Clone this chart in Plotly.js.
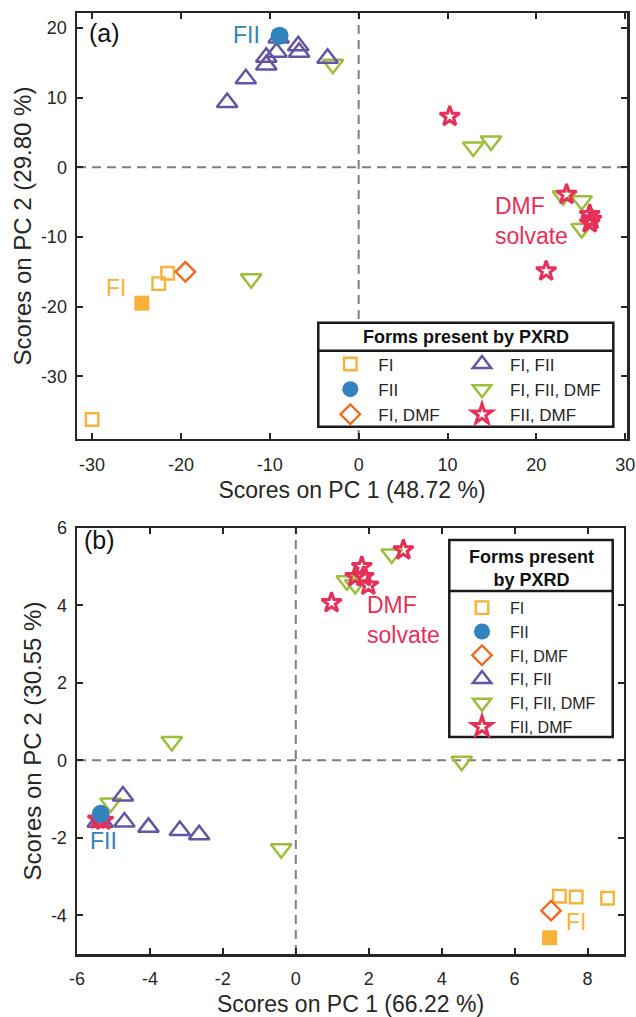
<!DOCTYPE html>
<html>
<head>
<meta charset="utf-8">
<script src="https://cdn.plot.ly/plotly-3.0.1.min.js"></script>
<style>html,body{margin:0;padding:0;background:#fff;}#chart{width:636px;height:1017px;}</style>
</head>
<body>
<div id="chart"></div>
<script>
// ---------- Panel (a) data ----------
const FI_a_x = [-22.5, -21.5, -30.0];
const FI_a_y = [-16.7, -15.2, -36.2];
const FIref_a_x = [-24.4];
const FIref_a_y = [-19.5];
const FIDMF_a_x = [-19.5];
const FIDMF_a_y = [-15.0];
const FIFII_a_x = [-9.0, -9.25, -6.8, -6.7, -3.5, -10.4, -10.4, -12.7, -14.8];
const FIFII_a_y = [18.55, 16.5, 17.45, 16.5, 15.65, 15.8, 14.7, 12.7, 9.3];
const FIFIIDMF_a_x = [-2.9, 12.9, 14.9, 23.0, 25.1, 25.1, -12.1];
const FIFIIDMF_a_y = [14.8, 2.93, 3.77, -4.1, -4.8, -8.8, -16.0];
const FIIDMF_a_x = [10.25, 23.4, 26.0, 26.2, 26.0, 21.1];
const FIIDMF_a_y = [7.3, -3.9, -6.8, -7.5, -8.0, -14.9];
const FII_a_x = [-8.9];
const FII_a_y = [18.9];

// ---------- Panel (b) data ----------
const FI_b_x = [7.23, 7.69, 8.55];
const FI_b_y = [-3.51, -3.53, -3.56];
const FIref_b_x = [6.96];
const FIref_b_y = [-4.58];
const FIDMF_b_x = [7.0];
const FIDMF_b_y = [-3.88];
const FIFII_b_x = [-4.74, -4.70, -4.04, -3.18, -2.65, -5.43, -5.30];
const FIFII_b_y = [-0.92, -1.59, -1.73, -1.81, -1.92, -1.60, -1.60];
const FIFIIDMF_b_x = [2.63, 1.40, 1.63, -3.40, -5.08, -0.40, 4.55];
const FIFIIDMF_b_y = [5.33, 4.64, 4.54, 0.49, -1.10, -2.28, -0.02];
const FIIDMF_b_x = [2.95, 1.81, 1.63, 1.86, 1.99, 0.98, -5.43, -5.28];
const FIIDMF_b_y = [5.43, 5.0, 4.74, 4.74, 4.52, 4.07, -1.52, -1.55];
const FII_b_x = [-5.35];
const FII_b_y = [-1.38];

// ---------- labels ----------
const groupNames = ['FI', 'FII', 'FI, DMF', 'FI, FII', 'FI, FII, DMF', 'FII, DMF'];
const xTicksA = [-30, -20, -10, 0, 10, 20, 30];
const xTickTextA = ['-30', '-20', '-10', '0', '10', '20', '30'];
const yTicksA = [-30, -20, -10, 0, 10, 20];
const yTickTextA = ['-30', '-20', '-10', '0', '10', '20'];
const xTicksB = [-6, -4, -2, 0, 2, 4, 6, 8];
const xTickTextB = ['-6', '-4', '-2', '0', '2', '4', '6', '8'];
const yTicksB = [-4, -2, 0, 2, 4, 6];
const yTickTextB = ['-4', '-2', '0', '2', '4', '6'];
const xTitleA = 'Scores on PC 1 (48.72 %)';
const yTitleA = 'Scores on PC 2 (29.80 %)';
const xTitleB = 'Scores on PC 1 (66.22 %)';
const yTitleB = 'Scores on PC 2 (30.55 %)';
const legendTitleA = '<b>Forms present by PXRD</b>';
const legendTitleB = '<b>Forms present<br>by PXRD</b>';

const C = {
  FI: '#F8B23A', FII: '#3182BD', FIDMF: '#EE6A24',
  FIFII: '#6454A4', FIFIIDMF: '#9DBE3C', FIIDMF: '#E6305A'
};
const FONT = 'Liberation Sans, Arial, sans-serif';

function tr(x, y, xa, ya, name, rank, symbol, color, size, lw, lg, show) {
  const open = symbol.indexOf('open') >= 0;
  return {
    type: 'scatter', mode: 'markers', x: x, y: y, xaxis: xa, yaxis: ya,
    name: name, legendrank: rank, legend: lg, showlegend: show,
    marker: {
      symbol: symbol, size: size, color: color,
      line: {color: color, width: open ? lw : 0}
    },
    hoverinfo: 'x+y+name'
  };
}

const traces = [
  // panel a
  tr(FI_a_x, FI_a_y, 'x', 'y', groupNames[0], 1, 'square-open', C.FI, 12.5, 2.4, 'legend', true),
  tr(FIref_a_x, FIref_a_y, 'x', 'y', 'FI ref', 7, 'square', C.FI, 15, 0, 'legend', false),
  tr(FIDMF_a_x, FIDMF_a_y, 'x', 'y', groupNames[2], 3, 'diamond-open', C.FIDMF, 15, 2.4, 'legend', true),
  tr(FIFIIDMF_a_x, FIFIIDMF_a_y, 'x', 'y', groupNames[4], 5, 'triangle-down-open', C.FIFIIDMF, 18, 2.5, 'legend2', true),
  tr(FIFII_a_x, FIFII_a_y, 'x', 'y', groupNames[3], 4, 'triangle-up-open', C.FIFII, 18, 2.5, 'legend2', true),
  tr(FIIDMF_a_x, FIIDMF_a_y, 'x', 'y', groupNames[5], 6, 'star-open', C.FIIDMF, 15, 3, 'legend2', true),
  tr(FII_a_x, FII_a_y, 'x', 'y', groupNames[1], 2, 'circle', C.FII, 18, 0, 'legend', true),
  // panel b
  tr(FI_b_x, FI_b_y, 'x2', 'y2', groupNames[0], 1, 'square-open', C.FI, 12.5, 2.4, 'legend3', true),
  tr(FIref_b_x, FIref_b_y, 'x2', 'y2', 'FI ref', 7, 'square', C.FI, 15, 0, 'legend3', false),
  tr(FIDMF_b_x, FIDMF_b_y, 'x2', 'y2', groupNames[2], 3, 'diamond-open', C.FIDMF, 15, 2.4, 'legend3', true),
  tr(FIFIIDMF_b_x, FIFIIDMF_b_y, 'x2', 'y2', groupNames[4], 5, 'triangle-down-open', C.FIFIIDMF, 18, 2.5, 'legend3', true),
  tr(FIFII_b_x, FIFII_b_y, 'x2', 'y2', groupNames[3], 4, 'triangle-up-open', C.FIFII, 18, 2.5, 'legend3', true),
  tr(FIIDMF_b_x, FIIDMF_b_y, 'x2', 'y2', groupNames[5], 6, 'star-open', C.FIIDMF, 15, 3, 'legend3', true),
  tr(FII_b_x, FII_b_y, 'x2', 'y2', groupNames[1], 2, 'circle', C.FII, 18, 0, 'legend3', true)
];

function axisCommon(extra) {
  return Object.assign({
    showgrid: false, zeroline: false, showline: true, linecolor: '#262626', linewidth: 2.5,
    mirror: 'ticks', ticks: 'inside', ticklen: 6, tickwidth: 2, tickcolor: '#262626',
    tickfont: {family: FONT, size: 18, color: '#262626'},
    tickmode: 'array'
  }, extra);
}

const legendBase = {
  bgcolor: 'rgba(0,0,0,0)', borderwidth: 0, orientation: 'v',
  font: {family: FONT, size: 17, color: '#262626'},
  traceorder: 'normal', itemsizing: 'trace', itemwidth: 46,
  xanchor: 'left', yanchor: 'top'
};

const dash = {color: '#7f7f7f', width: 2, dash: '9px,6px'};

const layout = {
  width: 636, height: 1017,
  margin: {l: 77, r: 9, t: 13, b: 63},
  paper_bgcolor: '#fff', plot_bgcolor: '#fff',
  font: {family: FONT, color: '#262626'},
  xaxis: axisCommon({domain: [0, 1], range: [-31.7, 30.2], tickvals: xTicksA, ticktext: xTickTextA, anchor: 'y',
    ticklabelstandoff: 8,
    title: {text: xTitleA, font: {family: FONT, size: 23, color: '#262626'}, standoff: 8}}),
  yaxis: axisCommon({domain: [0.5473, 1], range: [-39, 22.15], tickvals: yTicksA, ticktext: yTickTextA, anchor: 'x',
    ticklabelstandoff: 4,
    title: {text: yTitleA, font: {family: FONT, size: 24, color: '#262626'}, standoff: 3}}),
  xaxis2: axisCommon({domain: [0, 0.9945], range: [-6, 9], tickvals: xTicksB, ticktext: xTickTextB, anchor: 'y2',
    ticklabelstandoff: 7,
    title: {text: xTitleB, font: {family: FONT, size: 23, color: '#262626'}, standoff: 9}}),
  yaxis2: axisCommon({domain: [0, 0.4527], range: [-5, 6], tickvals: yTicksB, ticktext: yTickTextB, anchor: 'x2',
    ticklabelstandoff: 4,
    title: {text: yTitleB, font: {family: FONT, size: 24, color: '#262626'}, standoff: 3}}),
  legend: Object.assign({}, legendBase, {x: 0.446, y: 0.6456}),
  legend2: Object.assign({}, legendBase, {x: 0.6855, y: 0.6456}),
  legend3: Object.assign({}, legendBase, {x: 0.6855, y: 0.386, font: {family: FONT, size: 16, color: '#262626'}}),
  shapes: [
    {type: 'line', xref: 'x', yref: 'y domain', x0: 0, x1: 0, y0: 0, y1: 1, line: dash, layer: 'below'},
    {type: 'line', xref: 'x domain', yref: 'y', x0: 0, x1: 1, y0: 0, y1: 0, line: dash, layer: 'below'},
    {type: 'line', xref: 'x2', yref: 'y2 domain', x0: 0, x1: 0, y0: 0, y1: 1, line: dash, layer: 'below'},
    {type: 'line', xref: 'x2 domain', yref: 'y2', x0: 0, x1: 1, y0: 0, y1: 0, line: dash, layer: 'below'},
    // legend boxes
    {type: 'rect', xref: 'paper', yref: 'paper', x0: 0.4387, x1: 0.9751, y0: 0.5604, y1: 0.6709,
      line: {color: '#1a1a1a', width: 2.5}, fillcolor: '#fff', layer: 'above'},
    {type: 'line', xref: 'paper', yref: 'paper', x0: 0.4387, x1: 0.9751, y0: 0.6411, y1: 0.6411,
      line: {color: '#1a1a1a', width: 2.5}},
    {type: 'rect', xref: 'paper', yref: 'paper', x0: 0.6769, x1: 0.974, y0: 0.2306, y1: 0.44,
      line: {color: '#1a1a1a', width: 2.5}, fillcolor: '#fff', layer: 'above'},
    {type: 'line', xref: 'paper', yref: 'paper', x0: 0.6769, x1: 0.974, y0: 0.3857, y1: 0.3857,
      line: {color: '#1a1a1a', width: 2.5}}
  ],
  annotations: [
    {xref: 'paper', yref: 'paper', x: 0.0509, y: 0.9784, text: '(a)', showarrow: false,
      font: {family: FONT, size: 25, color: '#111'}, xanchor: 'center', yanchor: 'middle'},
    {xref: 'paper', yref: 'paper', x: 0.0418, y: 0.44, text: '(b)', showarrow: false,
      font: {family: FONT, size: 25, color: '#111'}, xanchor: 'center', yanchor: 'middle'},
    {xref: 'x', yref: 'y', x: -12.6, y: 19.0, text: 'FII', showarrow: false,
      font: {family: FONT, size: 23, color: C.FII}},
    {xref: 'x', yref: 'y', x: 15.1, y: -7.75, text: 'DMF<br>solvate', showarrow: false, align: 'left',
      xanchor: 'left', font: {family: FONT, size: 23, color: C.FIIDMF}},
    {xref: 'x', yref: 'y', x: -27.3, y: -17.3, text: 'FI', showarrow: false,
      font: {family: FONT, size: 23, color: C.FI}},
    {xref: 'x2', yref: 'y2', x: 1.9, y: 3.62, text: 'DMF<br>solvate', showarrow: false, align: 'left',
      xanchor: 'left', font: {family: FONT, size: 23, color: C.FIIDMF}},
    {xref: 'x2', yref: 'y2', x: -5.27, y: -2.07, text: 'FII', showarrow: false,
      font: {family: FONT, size: 23, color: C.FII}},
    {xref: 'x2', yref: 'y2', x: 7.69, y: -4.18, text: 'FI', showarrow: false,
      font: {family: FONT, size: 23, color: C.FI}},
    {xref: 'paper', yref: 'paper', x: 0.7069, y: 0.6557, text: legendTitleA, showarrow: false,
      font: {family: FONT, size: 18, color: '#111'}, xanchor: 'center', yanchor: 'middle'},
    {xref: 'paper', yref: 'paper', x: 0.8255, y: 0.4102, text: legendTitleB, showarrow: false,
      font: {family: FONT, size: 18, color: '#111'}, xanchor: 'center', yanchor: 'middle'}
  ]
};

Plotly.newPlot('chart', traces, layout, {displayModeBar: false, staticPlot: true});
</script>
</body>
</html>
